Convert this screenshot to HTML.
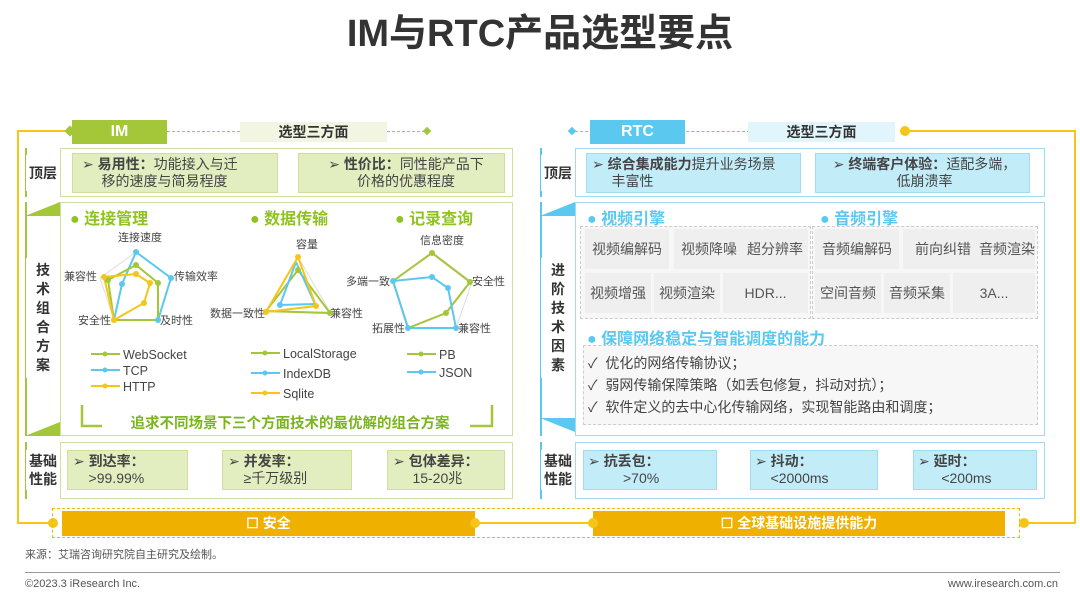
<!DOCTYPE html>
<html><head><meta charset="utf-8"><style>
*{margin:0;padding:0;box-sizing:border-box}
body{width:1080px;height:604px;background:#fff;position:relative;overflow:hidden;font-family:"Liberation Sans","Noto Sans CJK SC",sans-serif;color:#444}
.a{position:absolute}
.t{font-size:14px;line-height:17px}
.b{font-weight:bold}
.lab{position:absolute;background:#fff;font-weight:bold;font-size:14px;color:#333;text-align:center;display:flex;align-items:center;justify-content:center;line-height:18px}
.gbox{position:absolute;background:#e3eec0;border:1px solid #cfe09a}
.bbox{position:absolute;background:#c3ecf9;border:1px solid #9fdcf2}
.cell{position:absolute;background:#efefef;font-size:14px;color:#555;display:flex;align-items:center;justify-content:center}
</style></head><body>
<div class="a b" style="left:0;width:1080px;top:12px;text-align:center;font-size:38px;color:#333;line-height:44px">IM与RTC产品选型要点</div>

<div class="a" style="left:17px;top:130px;width:2px;height:394px;background:#f5c518"></div>
<div class="a" style="left:17px;top:130px;width:52px;height:2px;background:#f5c518"></div>
<div class="a" style="left:17px;top:522px;width:36px;height:2px;background:#f5c518"></div>
<div class="a" style="left:1074px;top:130px;width:2px;height:394px;background:#f5c518"></div>
<div class="a" style="left:905px;top:130px;width:170px;height:2px;background:#f5c518"></div>
<div class="a" style="left:1024px;top:522px;width:52px;height:2px;background:#f5c518"></div>
<div class="a" style="left:900px;top:126px;width:10px;height:10px;border-radius:5px;background:#f5c518"></div>
<div class="a" style="left:48px;top:518px;width:10px;height:10px;border-radius:5px;background:#f5c518"></div>
<div class="a" style="left:1019px;top:518px;width:10px;height:10px;border-radius:5px;background:#f5c518"></div>

<div class="a" style="left:66px;top:127px;width:8px;height:8px;background:#a4c639;transform:rotate(45deg)"></div>
<div class="a b" style="left:72px;top:120px;width:95px;height:24px;background:#a4c639;color:#fff;font-size:16px;text-align:center;line-height:24px">IM</div>
<div class="a" style="left:167px;top:131px;width:263px;border-top:1px dashed #a4c639"></div>
<div class="a b" style="left:240px;top:122px;width:147px;height:20px;background:#f1f5e1;text-align:center;font-size:14px;line-height:20px;color:#333">选型三方面</div>
<div class="a" style="left:424px;top:128px;width:6px;height:6px;background:#a4c639;transform:rotate(45deg)"></div>

<div class="a" style="left:25px;top:148px;width:35px;height:49px;border-left:2px solid #a4c639;"></div>
<div class="lab" style="left:26px;top:155px;width:34px;height:36px">顶层</div>
<div class="a" style="left:60px;top:148px;width:453px;height:49px;border:1px solid #cfe09a"></div>
<div class="gbox" style="left:72px;top:153px;width:206px;height:40px"></div>
<div class="a t" style="left:82px;top:156px;width:190px;color:#444">➢ <b>易用性：</b>功能接入与迁<br>&nbsp;&nbsp;&nbsp;&nbsp;&nbsp;移的速度与简易程度</div>
<div class="gbox" style="left:298px;top:153px;width:207px;height:40px"></div>
<div class="a t" style="left:308px;top:156px;width:196px;text-align:center">➢ <b>性价比：</b>同性能产品下<br>价格的优惠程度</div>

<div class="a" style="left:25px;top:202px;width:35px;height:234px;border-left:2px solid #a4c639"></div>
<div class="a" style="left:25px;top:202px;width:0;height:0;border-right:35px solid #a4c639;border-top:14px solid transparent"></div>
<div class="a" style="left:25px;top:422px;width:0;height:0;border-right:35px solid #a4c639;border-bottom:14px solid transparent;transform:scaleY(-1)"></div>
<div class="lab" style="left:26px;top:258px;width:34px;height:120px;line-height:19px">技<br>术<br>组<br>合<br>方<br>案</div>
<div class="a" style="left:60px;top:202px;width:453px;height:234px;border:1px solid #cfe09a"></div>
<div class="a b" style="left:70px;top:205px;font-size:16px;color:#8fc31f">●&nbsp;连接管理</div>
<div class="a b" style="left:250px;top:205px;font-size:16px;color:#8fc31f">●&nbsp;数据传输</div>
<div class="a b" style="left:395px;top:205px;font-size:16px;color:#8fc31f">●&nbsp;记录查询</div>

<svg class="a" style="left:0;top:0" width="540" height="440" font-family="Liberation Sans,Noto Sans CJK SC,sans-serif" font-size="11" fill="#444">
<g stroke="#ddd" fill="none"><polygon points="136,252 171,278 158,320 114,320 100,278"/><polygon points="298,257 330,312 266,312"/><polygon points="432,252 472,282 456,328 408,328 393,281"/></g>
<text x="140" y="241" text-anchor="middle">连接速度</text>
<text x="64" y="280">兼容性</text><text x="174" y="280">传输效率</text>
<text x="78" y="324">安全性</text><text x="160" y="324">及时性</text>
<polyline fill="none" stroke="#5bc8f0" stroke-width="2" points="136,252 171,278 158,320 114,320 122,284 136,252"/>
<polyline fill="none" stroke="#a4c639" stroke-width="2" points="136,265 158,283 158,320 114,320 108,280 136,265"/>
<polyline fill="none" stroke="#f5c518" stroke-width="2" points="104,277 136,274 150,283 144,303 114,320 104,277"/>
<g fill="#5bc8f0"><circle cx="136" cy="252" r="3"/><circle cx="171" cy="278" r="3"/><circle cx="158" cy="320" r="3"/><circle cx="122" cy="284" r="3"/></g>
<g fill="#a4c639"><circle cx="136" cy="265" r="3"/><circle cx="158" cy="283" r="3"/><circle cx="108" cy="280" r="3"/></g>
<g fill="#f5c518"><circle cx="104" cy="277" r="3"/><circle cx="136" cy="274" r="3"/><circle cx="150" cy="283" r="3"/><circle cx="144" cy="303" r="3"/><circle cx="114" cy="320" r="3"/></g>

<text x="307" y="248" text-anchor="middle">容量</text>
<text x="210" y="317">数据一致性</text><text x="330" y="317">兼容性</text>
<polyline fill="none" stroke="#a4c639" stroke-width="2" points="298,270 330,313 266,311 298,270"/>
<polyline fill="none" stroke="#5bc8f0" stroke-width="2" points="296,262 315,304 280,305 296,262"/>
<polyline fill="none" stroke="#f5c518" stroke-width="2" points="298,257 316,306 266,312 298,257"/>
<g fill="#f5c518"><circle cx="298" cy="257" r="3"/><circle cx="266" cy="312" r="3"/><circle cx="316" cy="306" r="3"/></g>
<g fill="#5bc8f0"><circle cx="280" cy="305" r="3"/></g>
<g fill="#a4c639"><circle cx="298" cy="270" r="3"/><circle cx="330" cy="313" r="3"/></g>

<text x="442" y="244" text-anchor="middle">信息密度</text>
<text x="346" y="285">多端一致</text><text x="472" y="285">安全性</text>
<text x="372" y="332">拓展性</text><text x="458" y="332">兼容性</text>
<polyline fill="none" stroke="#a4c639" stroke-width="2" points="432,253 470,282 446,313 408,328 393,281 432,253"/>
<polyline fill="none" stroke="#5bc8f0" stroke-width="2" points="393,281 432,277 448,288 456,328 408,328 393,281"/>
<g fill="#a4c639"><circle cx="432" cy="253" r="3"/><circle cx="470" cy="282" r="3"/><circle cx="446" cy="313" r="3"/></g>
<g fill="#5bc8f0"><circle cx="393" cy="281" r="3"/><circle cx="432" cy="277" r="3"/><circle cx="448" cy="288" r="3"/><circle cx="456" cy="328" r="3"/><circle cx="408" cy="328" r="3"/></g>

<g stroke-width="2">
<line x1="91" y1="354" x2="120" y2="354" stroke="#a4c639"/><line x1="91" y1="370" x2="120" y2="370" stroke="#5bc8f0"/><line x1="91" y1="386" x2="120" y2="386" stroke="#f5c518"/>
<line x1="251" y1="353" x2="280" y2="353" stroke="#a4c639"/><line x1="251" y1="373" x2="280" y2="373" stroke="#5bc8f0"/><line x1="251" y1="393" x2="280" y2="393" stroke="#f5c518"/>
<line x1="407" y1="354" x2="436" y2="354" stroke="#a4c639"/><line x1="407" y1="372" x2="436" y2="372" stroke="#5bc8f0"/>
</g>
<g fill="#a4c639"><circle cx="105" cy="354" r="2.5"/><circle cx="265" cy="353" r="2.5"/><circle cx="421" cy="354" r="2.5"/></g>
<g fill="#5bc8f0"><circle cx="105" cy="370" r="2.5"/><circle cx="265" cy="373" r="2.5"/><circle cx="421" cy="372" r="2.5"/></g>
<g fill="#f5c518"><circle cx="105" cy="386" r="2.5"/><circle cx="265" cy="393" r="2.5"/></g>
<g font-size="12.5"><text x="123" y="359">WebSocket</text><text x="123" y="375">TCP</text><text x="123" y="391">HTTP</text>
<text x="283" y="358">LocalStorage</text><text x="283" y="378">IndexDB</text><text x="283" y="398">Sqlite</text>
<text x="439" y="359">PB</text><text x="439" y="377">JSON</text></g>
<polyline fill="none" stroke="#a4c639" stroke-width="2.5" points="82,405 82,426 102,426"/>
<polyline fill="none" stroke="#a4c639" stroke-width="2.5" points="470,426 492,426 492,405"/>
</svg>
<div class="a b" style="left:100px;top:412px;width:380px;text-align:center;font-size:14.5px;color:#7ab51d">追求不同场景下三个方面技术的最优解的组合方案</div>

<div class="a" style="left:25px;top:442px;width:35px;height:57px;border-left:2px solid #a4c639"></div>
<div class="lab" style="left:26px;top:450px;width:34px;height:40px">基础<br>性能</div>
<div class="a" style="left:60px;top:442px;width:453px;height:57px;border:1px solid #cfe09a"></div>
<div class="gbox" style="left:67px;top:450px;width:121px;height:40px"></div>
<div class="a t" style="left:73px;top:453px">➢ <b>到达率：</b><br>&nbsp;&nbsp;&nbsp;&nbsp;&gt;99.99%</div>
<div class="gbox" style="left:222px;top:450px;width:130px;height:40px"></div>
<div class="a t" style="left:228px;top:453px">➢ <b>并发率：</b><br>&nbsp;&nbsp;&nbsp;&nbsp;≥千万级别</div>
<div class="gbox" style="left:387px;top:450px;width:118px;height:40px"></div>
<div class="a t" style="left:393px;top:453px">➢ <b>包体差异：</b><br>&nbsp;&nbsp;&nbsp;&nbsp;&nbsp;15-20兆</div>

<div class="a" style="left:52px;top:508px;width:968px;height:30px;border:1px dashed #f5b800"></div>
<div class="a" style="left:475px;top:522px;width:120px;height:2px;background:#f5c518"></div>
<div class="a b" style="left:62px;top:511px;width:413px;height:25px;background:#f0b000;color:#fff;text-align:center;line-height:25px;font-size:14px">☐ 安全</div>
<div class="a b" style="left:593px;top:511px;width:412px;height:25px;background:#f0b000;color:#fff;text-align:center;line-height:25px;font-size:14px">☐ 全球基础设施提供能力</div>
<div class="a" style="left:470px;top:518px;width:10px;height:10px;border-radius:5px;background:#f5c518"></div>
<div class="a" style="left:588px;top:518px;width:10px;height:10px;border-radius:5px;background:#f5c518"></div>

<div class="a" style="left:569px;top:128px;width:6px;height:6px;background:#5bc8f0;transform:rotate(45deg)"></div>
<div class="a" style="left:575px;top:131px;width:175px;border-top:1px dashed #5bc8f0"></div>
<div class="a b" style="left:590px;top:120px;width:95px;height:24px;background:#5bc8f0;color:#fff;font-size:16px;text-align:center;line-height:24px">RTC</div>
<div class="a b" style="left:748px;top:122px;width:147px;height:20px;background:#e1f5fc;text-align:center;font-size:14px;line-height:20px;color:#333">选型三方面</div>

<div class="a" style="left:540px;top:148px;width:35px;height:49px;border-left:2px solid #5bc8f0"></div>
<div class="lab" style="left:541px;top:155px;width:34px;height:36px">顶层</div>
<div class="a" style="left:575px;top:148px;width:470px;height:49px;border:1px solid #9fdcf2"></div>
<div class="bbox" style="left:586px;top:153px;width:215px;height:40px"></div>
<div class="a t" style="left:592px;top:156px;width:210px">➢ <b>综合集成能力</b>提升业务场景<br>&nbsp;&nbsp;&nbsp;&nbsp;&nbsp;丰富性</div>
<div class="bbox" style="left:815px;top:153px;width:215px;height:40px"></div>
<div class="a t" style="left:822px;top:156px;width:205px;text-align:center">➢ <b>终端客户体验：</b>适配多端，<br>低崩溃率</div>

<div class="a" style="left:540px;top:202px;width:35px;height:234px;border-left:2px solid #5bc8f0"></div>
<div class="a" style="left:540px;top:202px;width:0;height:0;border-right:35px solid #5bc8f0;border-top:14px solid transparent"></div>
<div class="a" style="left:540px;top:418px;width:0;height:0;border-right:35px solid #5bc8f0;border-top:14px solid transparent;transform:scaleY(-1)"></div>
<div class="lab" style="left:541px;top:258px;width:34px;height:120px;line-height:19px">进<br>阶<br>技<br>术<br>因<br>素</div>
<div class="a" style="left:575px;top:202px;width:470px;height:234px;border:1px solid #9fdcf2"></div>
<div class="a b" style="left:587px;top:205px;font-size:16px;color:#5bc8f0">●&nbsp;视频引擎</div>
<div class="a b" style="left:820px;top:205px;font-size:16px;color:#5bc8f0">●&nbsp;音频引擎</div>
<div class="a" style="left:580px;top:226px;width:231px;height:93px;border:1px dashed #ccc;background:#f7f7f7"></div>
<div class="a" style="left:812px;top:226px;width:226px;height:93px;border:1px dashed #ccc;background:#f7f7f7"></div>
<div class="cell" style="left:585px;top:229px;width:84px;height:40px">视频编解码</div>
<div class="cell" style="left:674px;top:229px;width:70px;height:40px">视频降噪</div>
<div class="cell" style="left:742px;top:229px;width:66px;height:40px">超分辨率</div>
<div class="cell" style="left:585px;top:273px;width:66px;height:40px">视频增强</div>
<div class="cell" style="left:654px;top:273px;width:66px;height:40px">视频渲染</div>
<div class="cell" style="left:723px;top:273px;width:85px;height:40px">HDR...</div>
<div class="cell" style="left:815px;top:229px;width:84px;height:40px">音频编解码</div>
<div class="cell" style="left:903px;top:229px;width:80px;height:40px">前向纠错</div>
<div class="cell" style="left:971px;top:229px;width:64px;height:40px;justify-content:flex-end">音频渲染</div>
<div class="cell" style="left:815px;top:273px;width:66px;height:40px">空间音频</div>
<div class="cell" style="left:884px;top:273px;width:66px;height:40px">音频采集</div>
<div class="cell" style="left:953px;top:273px;width:82px;height:40px">3A...</div>
<div class="a b" style="left:587px;top:325px;font-size:16px;color:#5bc8f0">●&nbsp;保障网络稳定与智能调度的能力</div>
<div class="a" style="left:583px;top:345px;width:455px;height:80px;border:1px dashed #ccc;background:#f7f7f7"></div>
<div class="a" style="left:588px;top:352px;font-size:14px;line-height:22px;color:#444">✓&nbsp; 优化的网络传输协议；<br>✓&nbsp; 弱网传输保障策略（如丢包修复，抖动对抗）；<br>✓&nbsp; 软件定义的去中心化传输网络，实现智能路由和调度；</div>

<div class="a" style="left:540px;top:442px;width:35px;height:57px;border-left:2px solid #5bc8f0"></div>
<div class="lab" style="left:541px;top:450px;width:34px;height:40px">基础<br>性能</div>
<div class="a" style="left:575px;top:442px;width:470px;height:57px;border:1px solid #9fdcf2"></div>
<div class="bbox" style="left:583px;top:450px;width:134px;height:40px"></div>
<div class="a t" style="left:588px;top:453px">➢ <b>抗丢包：</b><br>&nbsp;&nbsp;&nbsp;&nbsp;&nbsp;&nbsp;&nbsp;&nbsp;&nbsp;&gt;70%</div>
<div class="bbox" style="left:750px;top:450px;width:128px;height:40px"></div>
<div class="a t" style="left:755px;top:453px">➢ <b>抖动：</b><br>&nbsp;&nbsp;&nbsp;&nbsp;&lt;2000ms</div>
<div class="bbox" style="left:913px;top:450px;width:124px;height:40px"></div>
<div class="a t" style="left:918px;top:453px">➢ <b>延时：</b><br>&nbsp;&nbsp;&nbsp;&nbsp;&nbsp;&nbsp;&lt;200ms</div>

<div class="a" style="left:25px;top:546px;font-size:11px;color:#555">来源：艾瑞咨询研究院自主研究及绘制。</div>
<div class="a" style="left:25px;top:572px;width:1035px;height:1px;background:#999"></div>
<div class="a" style="left:25px;top:578px;font-size:11px;color:#555">©2023.3 iResearch Inc.</div>
<div class="a" style="right:22px;top:578px;font-size:11px;color:#555">www.iresearch.com.cn</div>
</body></html>
